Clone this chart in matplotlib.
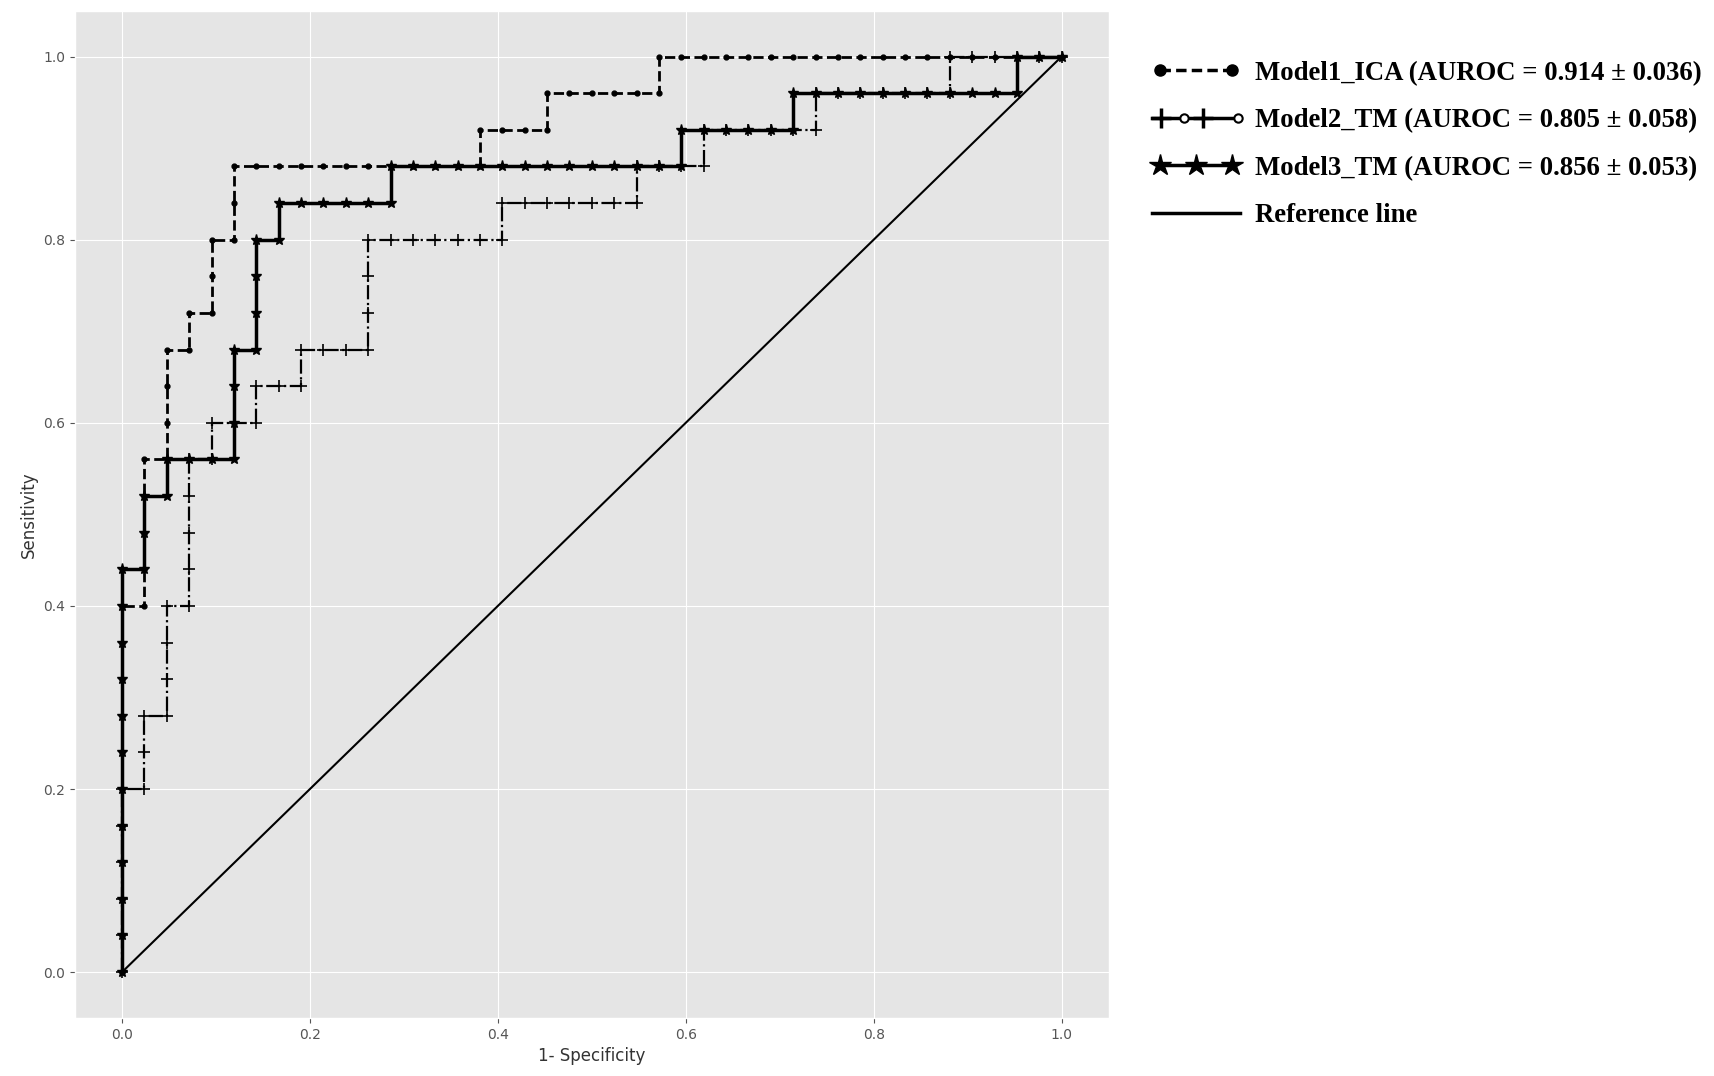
import matplotlib
matplotlib.use("Agg")
import matplotlib.pyplot as plt
import numpy as np
from matplotlib.lines import Line2D
from matplotlib.legend_handler import HandlerBase, HandlerLine2D

plt.style.use('ggplot')

N_NEG = 42
N_POS = 25

# false positive / true positive counts at each threshold step
m1_fp = [0,0,0,0,0,0,0,0,0,0,0, 1,1,1,1,1, 2,2,2,2, 3,3, 4,4,4, 5,5,5,
         6,7,8,9,10,11,12,13,14,15,16, 16, 17,18,19, 19, 20,21,22,23,24, 24,
         25,26,27,28,29,30,31,32,33,34,35,36,37,38,39,40,41,42]
m1_tp = [0,1,2,3,4,5,6,7,8,9,10, 10,11,12,13,14, 14,15,16,17, 17,18, 18,19,20, 20,21,22,
         22,22,22,22,22,22,22,22,22,22,22, 23, 23,23,23, 24, 24,24,24,24,24, 25,
         25,25,25,25,25,25,25,25,25,25,25,25,25,25,25,25,25,25]

m2_fp = [0,0,0,0,0,0, 1,1,1, 2,2,2,2, 3,3,3,3,3, 4,4, 5,6,6, 7,8,8,
         9,10,11,11,11,11, 12,13,14,15,16,17,17, 18,19,20,21,22,23,23,
         24,25,26,26, 27,28,29,30,31,31, 32,33,34,35,36,37,37, 38,39,40,41,42]
m2_tp = [0,1,2,3,4,5, 5,6,7, 7,8,9,10, 10,11,12,13,14, 14,15, 15,15,16, 16,16,17,
         17,17,17,18,19,20, 20,20,20,20,20,20,21, 21,21,21,21,21,21,22,
         22,22,22,23, 23,23,23,23,23,24, 24,24,24,24,24,24,25, 25,25,25,25,25]

m3_fp = [0,0,0,0,0,0,0,0,0,0,0,0, 1,1,1, 2,2, 3,4,5,5,5,5, 6,6,6,6, 7,7,
         8,9,10,11,12,12, 13,14,15,16,17,18,19,20,21,22,23,24,25,25,
         26,27,28,29,30,30, 31,32,33,34,35,36,37,38,39,40,40, 41,42]
m3_tp = [0,1,2,3,4,5,6,7,8,9,10,11, 11,12,13, 13,14, 14,14,14,15,16,17, 17,18,19,20, 20,21,
         21,21,21,21,21,22, 22,22,22,22,22,22,22,22,22,22,22,22,22,23,
         23,23,23,23,23,24, 24,24,24,24,24,24,24,24,24,24,25, 25,25]

labels = ['Model1_ICA (AUROC = 0.914 ± 0.036)',
          'Model2_TM (AUROC = 0.805 ± 0.058)',
          'Model3_TM (AUROC = 0.856 ± 0.053)',
          'Reference line']
ref_x = [0, 1]
ref_y = [0, 1]


class PlusCircleHandler(HandlerBase):
    def create_artists(self, legend, orig_handle, xdescent, ydescent,
                       width, height, fontsize, trans):
        y = (height - ydescent) / 2
        x0 = -xdescent
        ln = Line2D([x0, x0 + width], [y, y], color='k', lw=2.5)
        plus = Line2D([x0 + 0.1 * width, x0 + 0.58 * width], [y, y], ls='none',
                      marker='+', ms=14, mew=2.5, color='k')
        circ = Line2D([x0 + 0.36 * width, x0 + 0.97 * width], [y, y], ls='none',
                      marker='o', ms=6, mfc='white', mec='k', mew=1.5)
        for a in (ln, plus, circ):
            a.set_transform(trans)
        return [ln, plus, circ]


fig = plt.figure(figsize=(17.14, 10.76), dpi=100)
ax = fig.add_axes([0.0438, 0.054, 0.603, 0.936])

l1, = ax.plot(np.array(m1_fp) / N_NEG, np.array(m1_tp) / N_POS, color='k', ls='--',
              lw=2, marker='o', ms=3.5)
l2, = ax.plot(np.array(m2_fp) / N_NEG, np.array(m2_tp) / N_POS, color='k', ls='-.',
              lw=1.6, marker='+', ms=9, mew=1.2)
l3, = ax.plot(np.array(m3_fp) / N_NEG, np.array(m3_tp) / N_POS, color='k', ls='-',
              lw=2.5, marker='*', ms=8)
l4, = ax.plot(ref_x, ref_y, color='k', lw=1.5)

ax.set_xlabel('1- Specificity', fontsize=12, color='#333333')
ax.set_ylabel('Sensitivity', fontsize=12, color='#333333')
ax.tick_params(labelsize=10)

h1 = Line2D([], [], color='k', ls=(0, (3, 1.5)), lw=2.5, marker='o', ms=8)
h3 = Line2D([], [], color='k', ls='-', lw=2.5, marker='*', ms=16)
h4 = Line2D([], [], color='k', ls='-', lw=2.5)
h2 = object()

leg = fig.legend([h1, h2, h3, h4], labels, loc='upper left',
                 bbox_to_anchor=(0.658, 0.966), frameon=False,
                 prop={'family': 'Liberation Serif', 'weight': 'bold', 'size': 19.3},
                 handlelength=3.3, handletextpad=0.55, labelspacing=0.84,
                 handler_map={h1: HandlerLine2D(numpoints=2),
                              h2: PlusCircleHandler(),
                              h3: HandlerLine2D(numpoints=3)})

fig.savefig('out.png', dpi=100)
